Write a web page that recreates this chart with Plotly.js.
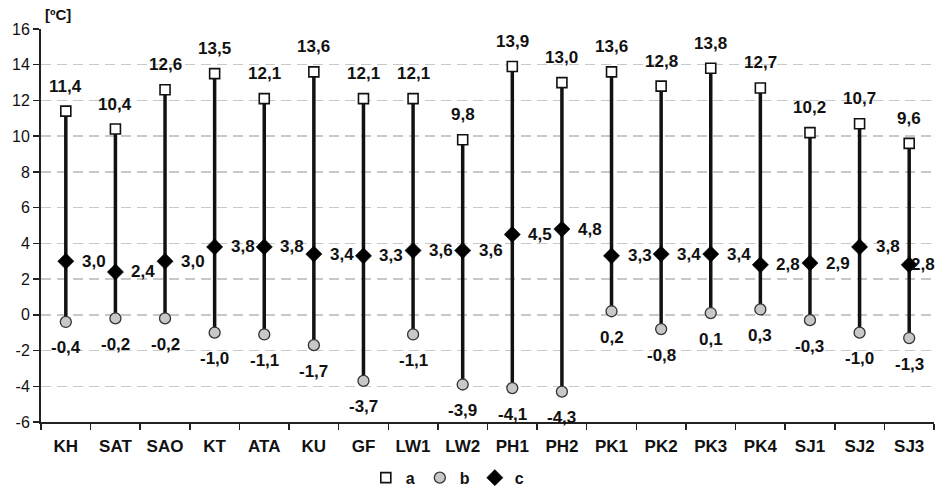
<!DOCTYPE html>
<html>
<head>
<meta charset="utf-8">
<script src="https://cdn.plot.ly/plotly-3.0.1.min.js"></script>
<style>html,body{margin:0;padding:0;background:#fff;}#chart{width:942px;height:490px;}</style>
</head>
<body>
<div id="chart"></div>
<script>
const categories = ["KH","SAT","SAO","KT","ATA","KU","GF","LW1","LW2","PH1","PH2","PK1","PK2","PK3","PK4","SJ1","SJ2","SJ3"];
const seriesA = [11.4,10.4,12.6,13.5,12.1,13.6,12.1,12.1,9.8,13.9,13.0,13.6,12.8,13.8,12.7,10.2,10.7,9.6];
const seriesB = [-0.4,-0.2,-0.2,-1.0,-1.1,-1.7,-3.7,-1.1,-3.9,-4.1,-4.3,0.2,-0.8,0.1,0.3,-0.3,-1.0,-1.3];
const seriesC = [3.0,2.4,3.0,3.8,3.8,3.4,3.3,3.6,3.6,4.5,4.8,3.3,3.4,3.4,2.8,2.9,3.8,2.8];
const yTicks = [-6,-4,-2,0,2,4,6,8,10,12,14,16];
const unitLabel = "[ºC]";

const FONT = '"Liberation Sans", Arial, sans-serif';
const fmt = v => v.toFixed(1).replace('.', ',');

// vertical range lines from b to a
const lx = [], ly = [];
categories.forEach((c, i) => { lx.push(c, c, null); ly.push(seriesB[i], seriesA[i], null); });

const traces = [
  {x: lx, y: ly, mode: 'lines', line: {color: '#111', width: 3.5}, showlegend: false, hoverinfo: 'skip'},
  {x: categories, y: seriesA, name: 'a', mode: 'markers', type: 'scatter',
   marker: {symbol: 'square', size: 10, color: '#fff', line: {color: '#111', width: 1.6}}},
  {x: categories, y: seriesB, name: 'b', mode: 'markers', type: 'scatter',
   marker: {symbol: 'circle', size: 11, color: '#c8c8c8', line: {color: '#333', width: 1.3}}},
  {x: categories, y: seriesC, name: 'c', mode: 'markers', type: 'scatter',
   marker: {symbol: 'diamond', size: 12.5, color: '#000', line: {color: '#000', width: 0.5}}}
];

const annFont = {family: FONT, size: 17, color: '#111', weight: 'bold'};
const annotations = [];
categories.forEach((c, i) => {
  annotations.push({x: c, y: seriesA[i], xref: 'x', yref: 'y', text: '<b>' + fmt(seriesA[i]) + '</b>',
    showarrow: false, yshift: 25, font: annFont});
  annotations.push({x: c, y: seriesB[i], xref: 'x', yref: 'y', text: '<b>' + fmt(seriesB[i]) + '</b>',
    showarrow: false, yshift: -26, font: annFont});
  const last = i === categories.length - 1;
  annotations.push({x: c, y: seriesC[i], xref: 'x', yref: 'y', text: '<b>' + fmt(seriesC[i]) + '</b>',
    showarrow: false, xanchor: 'left', xshift: last ? 0 : 14, font: annFont});
});
annotations.push({x: 0, y: 1, xref: 'paper', yref: 'paper', xanchor: 'left', yanchor: 'bottom',
  xshift: 2, yshift: 4, text: '<b>' + unitLabel + '</b>', showarrow: false, font: {family: FONT, size: 15, color: '#111'}});

const layout = {
  width: 942, height: 490,
  margin: {l: 41, r: 8, t: 29, b: 68, pad: 0},
  paper_bgcolor: '#fff', plot_bgcolor: '#fff',
  font: {family: FONT, color: '#111'},
  showlegend: true,
  legend: {orientation: 'h', x: 0.455, xanchor: 'center', xref: 'paper', y: 0.025, yref: 'container', yanchor: 'middle',
    font: {family: FONT, size: 16, color: '#111', weight: 'bold'}, traceorder: 'normal'},
  xaxis: {type: 'category', range: [-0.5, categories.length - 0.5], showline: true, linecolor: '#222', linewidth: 2,
    ticks: 'outside', tickson: 'boundaries', ticklen: 6, tickwidth: 1.5, tickcolor: '#222',
    showgrid: false, zeroline: false, ticklabelstandoff: 8, automargin: false,
    tickfont: {family: FONT, size: 17, color: '#111', weight: 'bold'}},
  yaxis: {range: [-6, 16], tickvals: yTicks, ticktext: yTicks.map(String), showline: true, linecolor: '#222', linewidth: 2,
    ticks: 'outside', ticklen: 6, tickwidth: 1.5, tickcolor: '#222', zeroline: false, automargin: false,
    showgrid: true, gridcolor: '#c8c8c8', gridwidth: 1.5, griddash: '10px,6px',
    tickfont: {family: FONT, size: 16, color: '#111'}},
  annotations: annotations
};

Plotly.newPlot('chart', traces, layout, {displayModeBar: false, staticPlot: true});
</script>
</body>
</html>
